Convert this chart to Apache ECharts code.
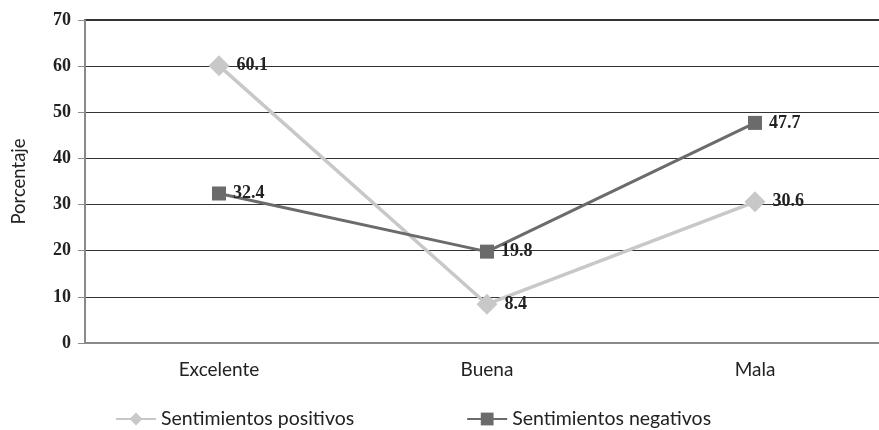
<!DOCTYPE html>
<html>
<head>
<meta charset="utf-8">
<script src="https://cdn.jsdelivr.net/npm/echarts@6/dist/echarts.min.js"></script>
<style>html,body{margin:0;padding:0;background:#fff;overflow:hidden}#c{width:900px;height:430px}</style>
</head>
<body>
<div id="c"></div>
<script>
var categories = ['Excelente', 'Buena', 'Mala'];
var positivos = [60.1, 8.4, 30.6];
var negativos = [32.4, 19.8, 47.7];
var seriesNames = ['Sentimientos positivos', 'Sentimientos negativos'];
var yTicks = [0, 10, 20, 30, 40, 50, 60, 70];

var chart = echarts.init(document.getElementById('c'), null, {renderer: 'canvas'});
var labelStyle = {
  show: true, position: 'right', distance: 7,
  fontFamily: 'Liberation Serif', fontWeight: 'bold', fontSize: 18, color: '#222'
};
chart.setOption({
  animation: false,
  backgroundColor: '#fff',
  grid: {left: 85, top: 20, width: 804, height: 323, containLabel: false,
         show: true, borderColor: '#333', borderWidth: 2, backgroundColor: 'transparent'},
  legend: {
    top: 404, left: 110, itemGap: 112, itemWidth: 40, itemHeight: 16,
    textStyle: {fontFamily: 'Lato', fontSize: 19.5, color: '#222', padding: [0, 0, 0, 0]},
    data: [seriesNames[0], seriesNames[1]]
  },
  xAxis: {
    type: 'category', data: categories, boundaryGap: true,
    axisLine: {lineStyle: {color: '#8a8a8a', width: 2}},
    axisTick: {show: false},
    axisLabel: {fontFamily: 'Lato', fontSize: 19, color: '#222', margin: 17}
  },
  yAxis: {
    type: 'value', min: yTicks[0], max: yTicks[yTicks.length - 1], interval: 10,
    name: 'Porcentaje', nameLocation: 'middle', nameGap: 56, nameRotate: 90,
    nameTextStyle: {fontFamily: 'Lato', fontSize: 18.5, color: '#222'},
    axisLine: {show: true, lineStyle: {color: '#8a8a8a', width: 2}},
    axisTick: {show: true, length: 7, lineStyle: {color: '#8a8a8a', width: 1}},
    axisLabel: {fontFamily: 'Liberation Serif', fontWeight: 'bold', fontSize: 18, color: '#222', margin: 14},
    splitLine: {lineStyle: {color: '#333', width: 1}}
  },
  series: [
    {
      name: seriesNames[0], type: 'line', data: positivos,
      symbol: 'diamond', symbolSize: 21,
      lineStyle: {color: '#c8c8c8', width: 3.5},
      itemStyle: {color: '#c8c8c8'},
      label: labelStyle, z: 3
    },
    {
      name: seriesNames[1], type: 'line', data: negativos,
      symbol: 'rect', symbolSize: 14,
      lineStyle: {color: '#6b6b6b', width: 3},
      itemStyle: {color: '#6b6b6b'},
      label: labelStyle, z: 4
    }
  ]
});
</script>
</body>
</html>
